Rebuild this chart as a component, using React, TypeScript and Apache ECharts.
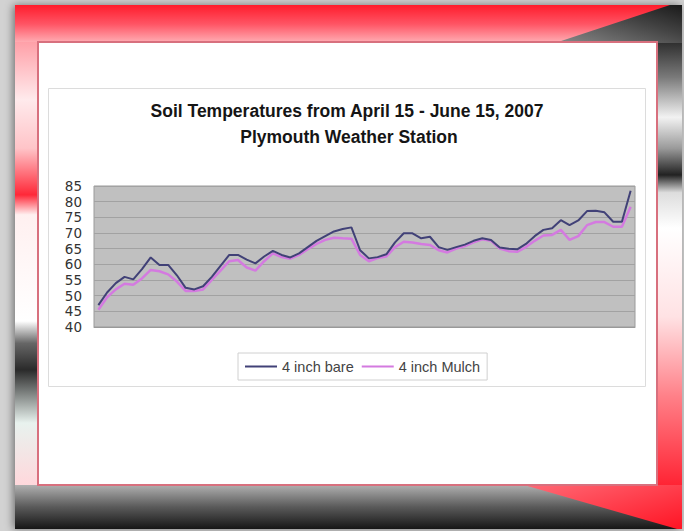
import React, { useEffect, useRef } from "react";
import * as echarts from "echarts";

const titleLine1 = "Soil Temperatures from April 15 - June 15, 2007";
const titleLine2 = "Plymouth Weather Station";

// 62 days: April 15 .. June 15, 2007
const dates: string[] = [
  "4/15", "4/16", "4/17", "4/18", "4/19", "4/20", "4/21", "4/22", "4/23", "4/24",
  "4/25", "4/26", "4/27", "4/28", "4/29", "4/30",
  "5/1", "5/2", "5/3", "5/4", "5/5", "5/6", "5/7", "5/8", "5/9", "5/10",
  "5/11", "5/12", "5/13", "5/14", "5/15", "5/16", "5/17", "5/18", "5/19", "5/20",
  "5/21", "5/22", "5/23", "5/24", "5/25", "5/26", "5/27", "5/28", "5/29", "5/30", "5/31",
  "6/1", "6/2", "6/3", "6/4", "6/5", "6/6", "6/7", "6/8", "6/9", "6/10",
  "6/11", "6/12", "6/13", "6/14", "6/15",
];

const bare: number[] = [
  47, 51, 54, 56, 55.2, 58.5, 62.2, 59.8, 59.8, 56.5,
  52.5, 52, 53, 56, 59.5, 63, 63, 61.5, 60.3, 62.5,
  64.3, 63, 62.2, 63.5, 65.5, 67.5, 69, 70.5, 71.3, 71.8,
  64.5, 61.9, 62.3, 63.2, 67, 69.9, 69.9, 68.3, 68.8, 65.5,
  64.6, 65.5, 66.3, 67.5, 68.3, 67.8, 65.4, 65, 64.8, 66.5,
  69, 71, 71.5, 74.1, 72.5, 74, 77, 77.1, 76.6, 73.6,
  73.6, 83.5,
];

const mulch: number[] = [
  45.5, 49.5, 52, 53.8, 53.5, 55.5, 58.2, 57.8, 56.8, 54.5,
  51.5, 51.5, 52, 55, 58, 61, 61.4, 59, 58, 61,
  63.5, 62.3, 61.8, 63, 64.8, 66.5, 67.8, 68.5, 68.3, 68.2,
  63, 61, 62, 62.5, 65.5, 67.2, 67, 66.5, 66.2, 64.5,
  63.8, 65, 65.8, 67, 68, 67.5, 65, 64.2, 64, 65.5,
  67.5, 69.2, 69.4, 71, 67.8, 69, 72.5, 73.5, 73.5, 72,
  72, 78.4,
];

const seriesNames = ["4 inch bare", "4 inch Mulch"];

export default function App() {
  const ref = useRef<HTMLDivElement>(null);

  useEffect(() => {
    document.body.style.margin = "0";
    if (!ref.current) return;
    const chart = echarts.init(ref.current, undefined, { renderer: "svg" });
    const LG = echarts.graphic.LinearGradient;

    const bg: any[] = [
      { type: "rect", z: -20, silent: true, shape: { x: 0, y: 0, width: 684, height: 531 }, style: { fill: "#d2d2d2" } },
      {
        type: "rect", z: -19, silent: true,
        shape: { x: 15, y: 5, width: 667, height: 524 },
        style: { fill: "#ffffff", shadowBlur: 8, shadowColor: "rgba(0,0,0,0.45)", shadowOffsetX: -2 },
      },
      // top band
      {
        type: "rect", z: -18, silent: true,
        shape: { x: 15, y: 5, width: 667, height: 38 },
        style: {
          fill: new LG(0, 0, 0, 1, [
            { offset: 0, color: "#ff1c2c" },
            { offset: 0.5, color: "#ff5464" },
            { offset: 1, color: "#ffb0b6" },
          ]),
        },
      },
      // top-right dark wedge
      {
        type: "polygon", z: -17, silent: true,
        shape: { points: [[555, 43], [670, 5], [682, 5], [682, 43]] },
        style: {
          fill: new LG(0, 1, 1, 0, [
            { offset: 0, color: "#8a8a8a" },
            { offset: 0.6, color: "#444" },
            { offset: 1, color: "#1a1a1a" },
          ]),
        },
      },
      // left column
      {
        type: "rect", z: -18, silent: true,
        shape: { x: 15, y: 42, width: 24, height: 443 },
        style: {
          fill: new LG(0, 0, 0, 1, [
            { offset: 0, color: "#ffa0a8" },
            { offset: 0.13, color: "#ffeaec" },
            { offset: 0.24, color: "#ffc4c8" },
            { offset: 0.345, color: "#ff2838" },
            { offset: 0.39, color: "#fff0f0" },
            { offset: 0.63, color: "#ffffff" },
            { offset: 0.68, color: "#666666" },
            { offset: 0.74, color: "#2a2a2a" },
            { offset: 0.86, color: "#e8f2ee" },
            { offset: 1, color: "#ffd8dc" },
          ]),
        },
      },
      // right column
      {
        type: "rect", z: -18, silent: true,
        shape: { x: 656, y: 42, width: 26, height: 443 },
        style: {
          fill: new LG(0, 0, 0, 1, [
            { offset: 0, color: "#2e2e2e" },
            { offset: 0.08, color: "#7a7a7a" },
            { offset: 0.17, color: "#f2f2f2" },
            { offset: 0.24, color: "#9a9a9a" },
            { offset: 0.3, color: "#222222" },
            { offset: 0.34, color: "#dddddd" },
            { offset: 0.42, color: "#ffffff" },
            { offset: 0.62, color: "#ffe2e4" },
            { offset: 0.8, color: "#ff8088" },
            { offset: 1, color: "#ff2434" },
          ]),
        },
      },
      // bottom band
      {
        type: "rect", z: -18, silent: true,
        shape: { x: 15, y: 485, width: 667, height: 44 },
        style: {
          fill: new LG(0, 0, 0, 1, [
            { offset: 0, color: "#b0b0b0" },
            { offset: 0.5, color: "#5a5a5a" },
            { offset: 1, color: "#161616" },
          ]),
        },
      },
      // bottom-right red wedge
      {
        type: "polygon", z: -17, silent: true,
        shape: { points: [[524, 485], [682, 485], [682, 529], [677, 529]] },
        style: {
          fill: new LG(0, 0, 1, 1, [
            { offset: 0, color: "#ff6a76" },
            { offset: 1, color: "#ff1424" },
          ]),
        },
      },
      // white panel with red border
      {
        type: "rect", z: -16, silent: true,
        shape: { x: 38, y: 42, width: 619, height: 443 },
        style: { fill: "#ffffff", stroke: "#d8707e", lineWidth: 2 },
      },
      // chart area border
      {
        type: "rect", z: -15, silent: true,
        shape: { x: 48.5, y: 88.5, width: 597, height: 298 },
        style: { fill: "#ffffff", stroke: "#dcdcdc", lineWidth: 1 },
      },
    ];

    const titleStyle = {
      fontFamily: "Liberation Sans, Arial, sans-serif",
      fontSize: 17.5,
      fontWeight: "bold",
      color: "#151515",
    };

    chart.setOption({
      animation: false,
      graphic: { elements: bg },
      title: [
        { text: titleLine1, left: 347, top: 102, textAlign: "center", padding: 0, textStyle: titleStyle },
        { text: titleLine2, left: 349, top: 128, textAlign: "center", padding: 0, textStyle: titleStyle },
      ],
      legend: {
        data: seriesNames,
        left: 238,
        top: 353,
        padding: [6, 7],
        borderColor: "#d0d0d0",
        borderWidth: 1,
        backgroundColor: "#ffffff",
        icon: "rect",
        itemWidth: 32,
        itemHeight: 2,
        itemGap: 8,
        textStyle: { fontFamily: "Liberation Sans, Arial, sans-serif", fontSize: 14.5, color: "#444" },
      },
      grid: {
        left: 94, top: 186, width: 541, height: 141,
        show: true, backgroundColor: "#c0c0c0", borderColor: "#9a9a9a", borderWidth: 1,
      },
      xAxis: {
        type: "category",
        data: dates,
        boundaryGap: true,
        axisLabel: { show: false },
        axisTick: { show: false },
        axisLine: { show: true, lineStyle: { color: "#999" } },
      },
      yAxis: {
        type: "value",
        min: 40, max: 85, interval: 5,
        axisLine: { show: false },
        axisTick: { show: false },
        splitLine: { lineStyle: { color: "#a2a2a2", width: 1 } },
        axisLabel: { margin: 12, fontFamily: "DejaVu Sans, sans-serif", fontSize: 13.5, color: "#333" },
      },
      series: [
        {
          name: seriesNames[0], type: "line", data: bare, symbol: "none", z: 4,
          lineStyle: { color: "#414177", width: 2 }, itemStyle: { color: "#414177" },
        },
        {
          name: seriesNames[1], type: "line", data: mulch, symbol: "none", z: 3,
          lineStyle: { color: "#d47ae0", width: 2.5 }, itemStyle: { color: "#d47ae0" },
        },
      ],
    });

    return () => chart.dispose();
  }, []);

  return <div ref={ref} style={{ position: "absolute", left: 0, top: 0, width: 684, height: 531 }} />;
}
